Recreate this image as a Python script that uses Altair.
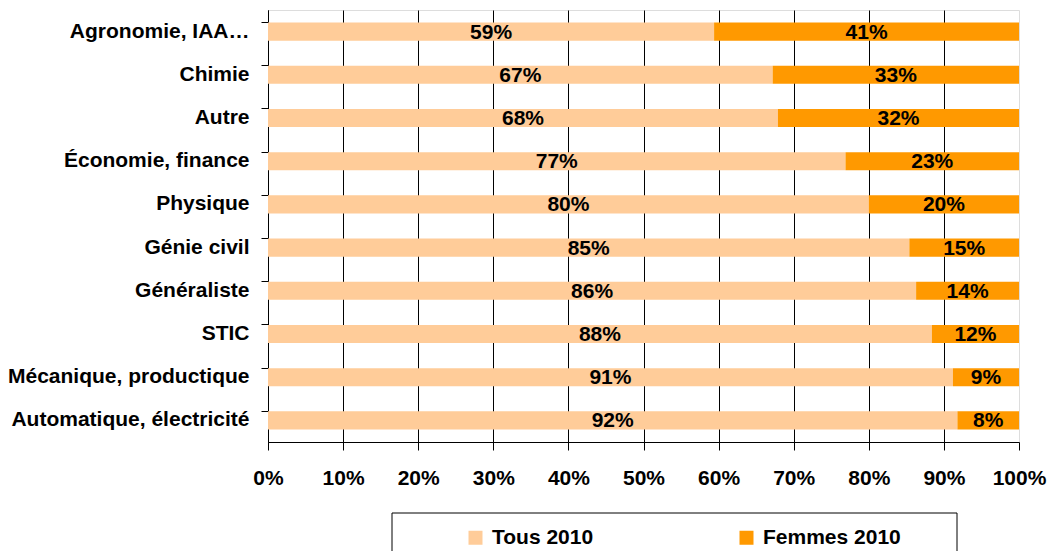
import altair as alt
import pandas as pd

categories = ["Agronomie, IAA…", "Chimie", "Autre", "Économie, finance", "Physique",
              "Génie civil", "Généraliste", "STIC", "Mécanique, productique",
              "Automatique, électricité"]
tous = [0.594, 0.672, 0.679, 0.769, 0.800, 0.854, 0.863, 0.884, 0.912, 0.918]
series = ["Tous 2010", "Femmes 2010"]
colors = ["#FFCC99", "#FF9900"]
x_ticks = [round(i / 10, 1) for i in range(11)]

rows = []
for c, t in zip(categories, tous):
    f = 1 - t
    rows.append(dict(cat=c, serie=series[0], start=0.0, end=t, val=t, mid=t / 2))
    rows.append(dict(cat=c, serie=series[1], start=t, end=1.0, val=f, mid=t + f / 2))
df = pd.DataFrame(rows)

FONT = "Liberation Sans"
FS = 21

y_enc = alt.Y(
    "cat:N", sort=categories,
    scale=alt.Scale(paddingInner=0.58, paddingOuter=0.29),
    axis=alt.Axis(title=None, bandPosition=0, tickSize=7, tickColor="black",
                  domainColor="black", labelPadding=12, labelFont=FONT,
                  labelFontSize=FS, labelFontWeight="bold", labelColor="black",
                  labelLimit=400, grid=False),
)
x_enc = alt.X(
    "start:Q", scale=alt.Scale(domain=[0, 1], nice=False),
    axis=alt.Axis(title=None, values=x_ticks, format=".0%", grid=True,
                  gridColor="black", gridWidth=1,
                  gridOpacity={"condition": {"test": "datum.value >= 1", "value": 0}, "value": 1},
                  tickSize=8, tickColor="black", domainColor="black",
                  labelFlush=False, labelOverlap=False,
                  labelPadding=17, labelFont=FONT, labelFontSize=FS,
                  labelFontWeight="bold", labelColor="black"),
)

bars = alt.Chart(df).mark_bar().encode(
    x=x_enc,
    x2="end:Q",
    y=y_enc,
    color=alt.Color(
        "serie:N",
        scale=alt.Scale(domain=series, range=colors),
        legend=alt.Legend(orient="none", legendX=197, legendY=517,
                          direction="horizontal", title=None, symbolType="square",
                          symbolSize=196, symbolStrokeWidth=0, symbolOpacity=1,
                          labelFont=FONT, labelFontSize=FS, labelFontWeight="bold",
                          labelColor="black", labelOffset=6, columnPadding=142,
                          padding=0),
    ),
    order=alt.Order("start:Q"),
)

labels = alt.Chart(df).mark_text(font=FONT, fontSize=FS, fontWeight="bold",
                                 color="black", baseline="middle", dy=1).encode(
    x="mid:Q",
    y=alt.Y("cat:N", sort=categories),
    text=alt.Text("val:Q", format=".0%"),
)

frame = alt.Chart(pd.DataFrame({"a": [0]})).mark_rect(
    fill="transparent", stroke="black", strokeWidth=1
).encode(x=alt.value(124), x2=alt.value(689), y=alt.value(503), y2=alt.value(580))

chart = alt.layer(bars, labels, frame).properties(
    width=751, height=432,
    padding={"left": 260, "top": 2, "right": 29, "bottom": 109},
    autosize=alt.AutoSizeParams(type="none"),
).configure_view(strokeWidth=0).configure(background="white")

chart.save("out.html", embed_options={"renderer": "svg", "actions": False})
